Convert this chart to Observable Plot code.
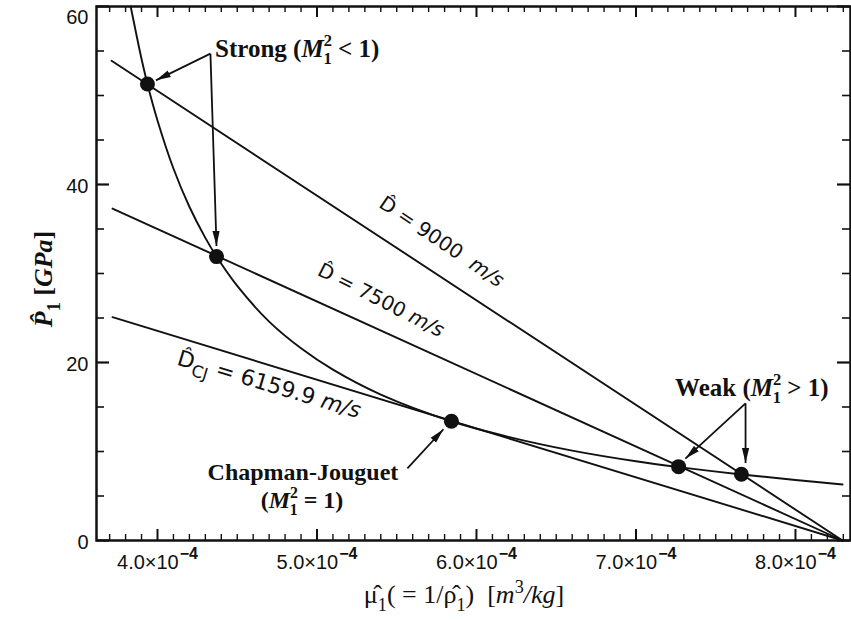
<!DOCTYPE html>
<html><head><meta charset="utf-8">
<script src="https://cdn.jsdelivr.net/npm/d3@7"></script>
<script src="https://cdn.jsdelivr.net/npm/@observablehq/plot@0.6"></script>
<style>html,body{margin:0;padding:0;background:#fff}</style>
</head><body><div id="chart"></div>
<script>
// ---------- data ----------
// Hugoniot curve (specific volume mu [m^3/kg], pressure P [GPa])
const hugoniotMu = [3.832e-4, 3.900e-4, 3.937e-4, 4.000e-4, 4.100e-4, 4.200e-4, 4.300e-4, 4.370e-4,
  4.500e-4, 4.700e-4, 4.900e-4, 5.100e-4, 5.400e-4, 5.843e-4, 6.200e-4, 6.600e-4, 7.000e-4,
  7.267e-4, 7.661e-4, 8.000e-4, 8.295e-4];
const hugoniotP = [60.0, 54.1, 51.3, 47.2, 41.8, 37.5, 34.0, 31.9,
  28.6, 24.6, 21.6, 19.2, 16.4, 13.4, 11.65, 10.1, 8.9,
  8.25, 7.42, 6.8, 6.3];
// Rayleigh lines: left end and right end (common initial state)
const rayleighNames = ["D = 9000 m/s", "D = 7500 m/s", "D_CJ = 6159.9 m/s"];
const rayleighMuLeft = [3.712e-4, 3.718e-4, 3.718e-4];
const rayleighPLeft = [53.9, 37.3, 25.1];
const rayleighMuRight = [8.295e-4, 8.295e-4, 8.295e-4];
const rayleighPRight = [0, 0, 0];
// intersection points
const pointNames = ["strong 9000", "strong 7500", "Chapman-Jouguet", "weak 7500", "weak 9000"];
const pointMu = [3.937e-4, 4.370e-4, 5.843e-4, 7.267e-4, 7.661e-4];
const pointP = [51.3, 31.9, 13.4, 8.3, 7.45];
// ticks
const xTickValues = [4e-4, 5e-4, 6e-4, 7e-4, 8e-4];
const xTickLabels = ["4.0×10", "5.0×10", "6.0×10", "7.0×10", "8.0×10"];
const xTickExponent = "−4";
const yTickValues = [0, 20, 40, 60];
const yMinorValues = [5, 10, 15, 25, 30, 35, 45, 50, 55];

// ---------- layout ----------
const W = 851, H = 621, mL = 96, mR = 1, mT = 6, mB = 81;
const PW = W - mL - mR, PH = H - mT - mB;
const ink = "#111";
const xMinorValues = d3.range(37, 84).filter(i => i % 10 !== 0).map(i => i / 1e5);

const hugo = hugoniotMu.map((m, i) => ({mu: m, p: hugoniotP[i]}));
const rayleigh = rayleighNames.flatMap((n, i) => [
  {name: n, mu: rayleighMuLeft[i], p: rayleighPLeft[i]},
  {name: n, mu: rayleighMuRight[i], p: rayleighPRight[i]}]);
const pts = pointNames.map((n, i) => ({name: n, mu: pointMu[i], p: pointP[i]}));
const arrows = [
  {mu1: 4.332e-4, p1: 54.7, mu2: 3.990e-4, p2: 51.7},
  {mu1: 4.332e-4, p1: 54.7, mu2: 4.370e-4, p2: 33.1},
  {mu1: 7.687e-4, p1: 15.4, mu2: 7.310e-4, p2: 9.2},
  {mu1: 7.687e-4, p1: 15.4, mu2: 7.687e-4, p2: 8.7},
  {mu1: 5.567e-4, p1: 8.1, mu2: 5.793e-4, p2: 12.5}
];

const plot = Plot.plot({
  width: W, height: H,
  marginLeft: mL, marginRight: mR, marginTop: mT, marginBottom: mB,
  x: {domain: [3.6176e-4, 8.345e-4], label: null},
  y: {domain: [0, 60], label: null},
  style: {fontFamily: "'Liberation Sans', Arial, sans-serif", fontSize: "20px", color: ink, background: "#fff"},
  marks: [
    // inward ticks on all four sides
    Plot.ruleX(xMinorValues, {insetTop: PH - 6, stroke: ink, strokeWidth: 1.4}),
    Plot.ruleX(xMinorValues, {insetBottom: PH - 6, stroke: ink, strokeWidth: 1.4}),
    Plot.ruleX(xTickValues, {insetTop: PH - 11, stroke: ink, strokeWidth: 2}),
    Plot.ruleX(xTickValues, {insetBottom: PH - 11, stroke: ink, strokeWidth: 2}),
    Plot.ruleY(yMinorValues, {insetRight: PW - 8, stroke: ink, strokeWidth: 1.6}),
    Plot.ruleY(yMinorValues, {insetLeft: PW - 8, stroke: ink, strokeWidth: 1.6}),
    Plot.ruleY(yTickValues, {insetRight: PW - 13, stroke: ink, strokeWidth: 2.2}),
    Plot.ruleY(yTickValues, {insetLeft: PW - 13, stroke: ink, strokeWidth: 2.2}),
    Plot.axisX(xTickValues, {anchor: "bottom", tickSize: 0, tickPadding: 14, label: null,
      tickFormat: d => xTickLabels[xTickValues.indexOf(d)], fill: ink}),
    Plot.axisY(yTickValues, {anchor: "left", tickSize: 0, tickPadding: 8, label: null, dy: 2, fill: ink}),
    Plot.frame({stroke: ink, strokeWidth: 2.5}),
    Plot.line(rayleigh, {x: "mu", y: "p", z: "name", stroke: ink, strokeWidth: 1.9}),
    Plot.line(hugo, {x: "mu", y: "p", curve: "catmull-rom", stroke: ink, strokeWidth: 1.9}),
    Plot.dot(pts, {x: "mu", y: "p", r: 7.5, fill: ink}),
    Plot.link(arrows, {x1: "mu1", y1: "p1", x2: "mu2", y2: "p2", stroke: ink, strokeWidth: 1.8})
  ]
});
document.getElementById("chart").append(plot);

const svg = d3.select(plot);
// exponent on x tick labels
svg.selectAll('g[aria-label="x-axis tick label"] text').each(function() {
  d3.select(this).append("tspan").attr("dy", -10).attr("dx", 1).attr("font-size", 16).attr("font-weight", "bold").text(xTickExponent);
});
// top y tick label sits a little lower, as in the reference
svg.selectAll('g[aria-label="y-axis tick label"] text').filter(function() { return this.textContent === "60"; })
  .each(function() {
    const tr = this.getAttribute("transform") || "";
    this.setAttribute("transform", tr + " translate(0,9)");
  });
// filled arrowheads
svg.append("defs").append("marker").attr("id", "ah")
  .attr("viewBox", "0 -4 15 8").attr("refX", 15).attr("refY", 0)
  .attr("markerWidth", 15).attr("markerHeight", 8).attr("markerUnits", "userSpaceOnUse").attr("orient", "auto")
  .append("path").attr("d", "M0,-3.6L15,0L0,3.6Z").attr("fill", ink);
svg.selectAll('g[aria-label="link"] path, g[aria-label="link"] line').attr("marker-end", "url(#ah)");

const sx = plot.scale("x"), sy = plot.scale("y");
const X = v => sx.apply(v), Y = v => sy.apply(v);
function rich(x, y, parts, o) {
  const S = o.size;
  const t = svg.append("text")
    .attr("transform", `translate(${x},${y}) rotate(${o.rotate || 0})`)
    .attr("text-anchor", o.anchor || "start")
    .attr("font-family", o.family)
    .attr("font-size", S)
    .attr("font-weight", o.weight || "normal")
    .attr("fill", ink)
    .attr("style", "white-space:pre");
  let cur = 0;
  for (const [txt, st = {}] of parts) {
    const ts = t.append("tspan").text(txt);
    const shift = st.shift || 0;
    const dy = (shift - cur) * S;
    if (dy) ts.attr("dy", dy.toFixed(2));
    cur = shift;
    if (st.dx) ts.attr("dx", (st.dx * S).toFixed(2));
    if (st.fs) ts.attr("font-size", (st.fs * S).toFixed(2));
    if (st.i) ts.attr("font-style", "italic");
    if (st.w) ts.attr("font-weight", st.w);
  }
}
const SUP = {shift: -0.42, fs: 0.66}, SUB = {shift: 0.3, fs: 0.66, dx: -0.34};
const serif = "'Liberation Serif', 'Times New Roman', serif";
const sans = "'DejaVu Sans', 'Liberation Sans', sans-serif";

rich(X(4.364e-4), Y(54.3), [["Strong ("], ["M", {i: 1}], ["2", SUP], ["1", SUB], [" < 1)"]],
  {size: 25, family: serif, weight: "bold"});
rich(X(7.248e-4), Y(16.2), [["Weak ("], ["M", {i: 1}], ["2", SUP], ["1", SUB], [" > 1)"]],
  {size: 25, family: serif, weight: "bold"});
rich(X(4.915e-4), Y(6.74), [["Chapman-Jouguet"]], {size: 24, family: serif, weight: "bold", anchor: "middle"});
rich(X(4.909e-4), Y(3.6), [["("], ["M", {i: 1}], ["2", SUP], ["1", SUB], [" = 1)"]],
  {size: 24, family: serif, weight: "bold", anchor: "middle"});

rich(X(5.762e-4), Y(32.9), [["D\u0302"], [" = 9000  "], ["m/s", {i: 1}]],
  {size: 20, family: sans, anchor: "middle", rotate: 34});
rich(X(5.386e-4), Y(26.3), [["D\u0302"], [" = 7500 "], ["m/s", {i: 1}]],
  {size: 20, family: sans, anchor: "middle", rotate: 27});
rich(X(4.690e-4), Y(16.7), [["D\u0302"], ["CJ", {shift: 0.3, fs: 0.75}], [" = 6159.9 "], ["m/s", {i: 1}]],
  {size: 22, family: sans, anchor: "middle", rotate: 16.5});

// axis titles
rich(464, 603, [["\u03BC\u0302"], ["1", {shift: 0.3, fs: 0.7}], ["( = 1/"], ["\u03C1\u0302"], ["1", {shift: 0.3, fs: 0.7}], [")  ["],
  ["m", {i: 1}], ["3", {shift: -0.4, fs: 0.7}], ["/kg", {i: 1}], ["]"]],
  {size: 26, family: serif, anchor: "middle"});
rich(52, 279, [["P\u0302", {i: 1}], ["1", {shift: 0.3, fs: 0.7}], [" ["], ["GPa", {i: 1}], ["]"]],
  {size: 26, family: serif, weight: "bold", anchor: "middle", rotate: -90});
</script>
</body></html>
